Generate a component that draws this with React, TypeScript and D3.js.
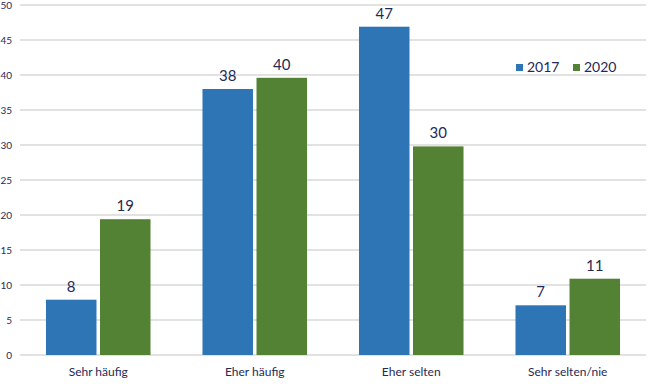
import React from "react";
import * as d3 from "d3";

const categories = ["Sehr häufig", "Eher häufig", "Eher selten", "Sehr selten/nie"];
const seriesNames = ["2017", "2020"];
const values2017 = [7.9, 38, 46.9, 7.1];
const values2020 = [19.4, 39.6, 29.8, 10.9];
const yTicks = [0, 5, 10, 15, 20, 25, 30, 35, 40, 45, 50];
const colors = ["#2E75B6", "#548235"];

const W = 650;
const H = 384;
const FONT = "Lato, 'Open Sans', sans-serif";
const TEXT = "#1f2a56";

export default function App() {
  const y = d3.scaleLinear().domain([0, 50]).range([355, 5]);
  const x0 = d3
    .scaleBand<string>()
    .domain(categories)
    .range([20, 646])
    .paddingInner(0.332)
    .paddingOuter(0.166);
  const x1 = d3
    .scaleBand<string>()
    .domain(seriesNames)
    .range([0, x0.bandwidth()])
    .paddingInner(0.065);
  const series = [values2017, values2020];

  return (
    <svg
      width={W}
      height={H}
      style={{ position: "absolute", left: 0, top: 0, background: "#fff" }}
      fontFamily={FONT}
    >
      {yTicks.map((t) => (
        <g key={t}>
          <line x1={20} x2={646} y1={y(t)} y2={y(t)} stroke="#d9d9d9" strokeWidth={1.5} />
          <text x={12} y={y(t)} dy="0.35em" textAnchor="end" fontSize={10} fill={TEXT}>
            {t}
          </text>
        </g>
      ))}
      {categories.map((c, i) => (
        <g key={c} transform={`translate(${x0(c)},0)`}>
          {seriesNames.map((s, j) => {
            const v = series[j][i];
            const bx = x1(s)!;
            const bw = x1.bandwidth();
            return (
              <g key={s}>
                <rect
                  x={bx}
                  y={y(v)}
                  width={bw}
                  height={y(0) - y(v)}
                  fill={colors[j]}
                />
                <text
                  x={bx + bw / 2}
                  y={y(v) - 8}
                  textAnchor="middle"
                  fontSize={15}
                  fill={TEXT}
                >
                  {Math.round(v)}
                </text>
              </g>
            );
          })}
          <text
            x={x0.bandwidth() / 2}
            y={376}
            textAnchor="middle"
            fontSize={12}
            fill={TEXT}
          >
            {c}
          </text>
        </g>
      ))}
      {seriesNames.map((s, j) => (
        <g key={s} transform={`translate(${516 + j * 57},0)`}>
          <rect x={0} y={64} width={7} height={7} fill={colors[j]} />
          <text x={11} y={72} fontSize={14} fill={TEXT}>
            {s}
          </text>
        </g>
      ))}
    </svg>
  );
}
